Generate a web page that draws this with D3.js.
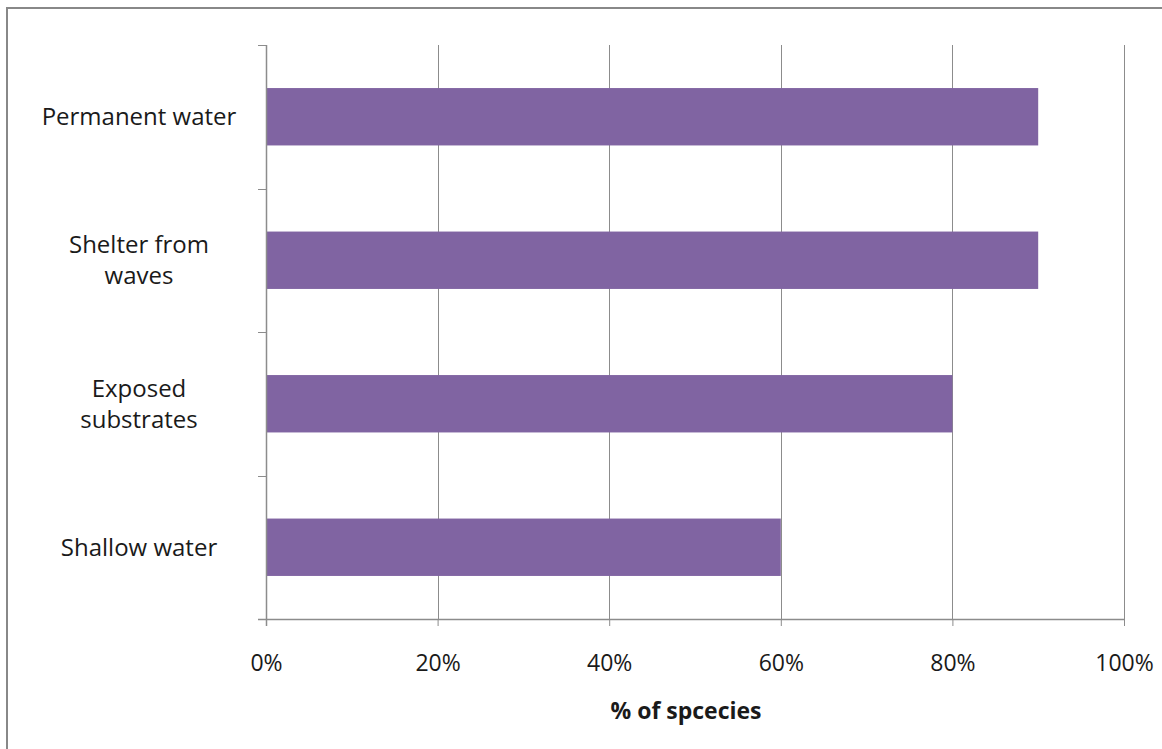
<!DOCTYPE html>
<html>
<head>
<meta charset="utf-8">
<script src="https://cdn.jsdelivr.net/npm/d3@7"></script>
<style>
  html, body { margin: 0; padding: 0; background: #fff; }
  svg { display: block; }
  text { font-family: "Open Sans", "Noto Sans", sans-serif; fill: #1a1a1a; }
</style>
</head>
<body>
<svg id="chart" width="1162" height="749"></svg>
<script>
// Habitat requirement categories, top to bottom
const categories = ["Permanent water", "Shelter from waves", "Exposed substrates", "Shallow water"];
const categoryLines = [["Permanent water"], ["Shelter from", "waves"], ["Exposed", "substrates"], ["Shallow water"]];
// Share of species for each category (fraction of 1)
const values = [0.9, 0.9, 0.8, 0.6];
const xTicks = [0, 0.2, 0.4, 0.6, 0.8, 1.0];
const xTitle = "% of spcecies";

const svg = d3.select("#chart");
const W = 1162, H = 749;
const plot = { left: 266, right: 1124, top: 45, bottom: 619 };
const gridColor = "#8c8c8c";
const axisColor = "#8c8c8c";
const barColor = "#8064a2";
const fontSize = 23;

// Outer frame
svg.append("rect")
  .attr("x", 7).attr("y", 8)
  .attr("width", W + 10).attr("height", H + 10)
  .attr("fill", "#fff")
  .attr("stroke", "#888").attr("stroke-width", 2);

const x = d3.scaleLinear().domain([0, 1]).range([plot.left, plot.right]);
const y = d3.scaleBand().domain(categories).range([plot.top, plot.bottom])
  .paddingInner(0.6).paddingOuter(0.3);

// Vertical gridlines
svg.append("g").selectAll("line")
  .data(xTicks.filter(d => d > 0))
  .join("line")
  .attr("x1", d => Math.round(x(d)) + 0.5).attr("x2", d => Math.round(x(d)) + 0.5)
  .attr("y1", plot.top).attr("y2", plot.bottom)
  .attr("stroke", gridColor).attr("stroke-width", 1);

// Bars
svg.append("g").selectAll("rect")
  .data(values)
  .join("rect")
  .attr("x", x(0))
  .attr("y", (d, i) => y(categories[i]))
  .attr("width", d => x(d) - x(0))
  .attr("height", y.bandwidth())
  .attr("fill", barColor);

// X axis
const xAxis = svg.append("g").attr("transform", `translate(0,${plot.bottom})`)
  .call(d3.axisBottom(x).tickValues(xTicks).tickFormat(d3.format(".0%")).tickSize(7));
xAxis.select(".domain").remove();
xAxis.selectAll(".tick line").attr("stroke", axisColor);
xAxis.selectAll(".tick text")
  .attr("font-size", fontSize)
  .attr("font-family", "Open Sans, sans-serif")
  .attr("fill", "#1a1a1a")
  .attr("y", 52).attr("dy", 0);
xAxis.append("line")
  .attr("x1", plot.left - 8).attr("x2", plot.right)
  .attr("y1", 0.5).attr("y2", 0.5)
  .attr("stroke", axisColor).attr("stroke-width", 1.5);

// Y axis: line with ticks on category boundaries
const yAxis = svg.append("g");
yAxis.append("line")
  .attr("x1", plot.left + 0.5).attr("x2", plot.left + 0.5)
  .attr("y1", plot.top).attr("y2", plot.bottom + 7)
  .attr("stroke", axisColor).attr("stroke-width", 1.5);
const boundaries = d3.range(categories.length + 1).map(i => plot.top + i * y.step());
yAxis.selectAll("line.tick")
  .data(boundaries)
  .join("line").attr("class", "tick")
  .attr("x1", plot.left - 8).attr("x2", plot.left)
  .attr("y1", d => Math.round(d) + 0.5).attr("y2", d => Math.round(d) + 0.5)
  .attr("stroke", axisColor);

// Category labels, centered multi-line
const lineH = 31;
const labels = svg.append("g").selectAll("text")
  .data(categories)
  .join("text")
  .attr("text-anchor", "middle")
  .attr("font-size", 24)
  .attr("transform", (d, i) => `translate(139,${y(d) + y.bandwidth() / 2})`);
labels.each(function(d, i) {
  const lines = categoryLines[i];
  const t = d3.select(this);
  lines.forEach((ln, j) => {
    t.append("tspan")
      .attr("x", 0)
      .attr("y", (j - (lines.length - 1) / 2) * lineH)
      .attr("dy", "0.35em")
      .text(ln);
  });
});

// X axis title
svg.append("text")
  .attr("x", 686)
  .attr("y", 719)
  .attr("text-anchor", "middle")
  .attr("font-size", 23)
  .attr("font-weight", "bold")
  .text(xTitle);
</script>
</body>
</html>
